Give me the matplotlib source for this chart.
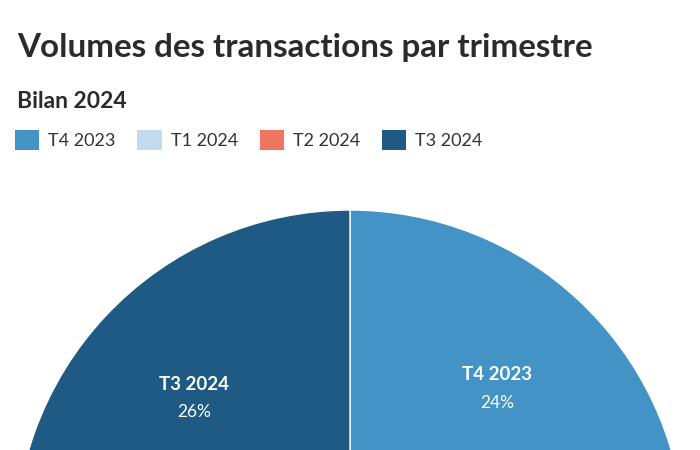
import matplotlib
matplotlib.use("Agg")
import matplotlib.pyplot as plt
from matplotlib.patches import Patch

categories = ["T4 2023", "T1 2024", "T2 2024", "T3 2024"]
shares = [24, 25, 25, 26]
colors = ["#4393c7", "#c3dbee", "#ee7562", "#1e5a84"]

title = "Volumes des transactions par trimestre"
subtitle = "Bilan 2024"

plt.rcParams['font.family'] = ['Lato', 'DejaVu Sans']

W, H = 700, 450
fig = plt.figure(figsize=(7, 4.5), dpi=100)
ax = fig.add_axes([0, 0, 1, 1])

wedges, texts, autotexts = ax.pie(
    shares, colors=colors, startangle=90, counterclock=False,
    center=(350, -95), radius=335, labels=categories,
    labeldistance=0.64, pctdistance=0.64,
    autopct=lambda p: f"{round(p)}%",
    wedgeprops=dict(edgecolor="white", linewidth=1.0),
    textprops=dict(color="white", fontsize=12.5))
for t, a in zip(texts, autotexts):
    x, y = t.get_position()
    t.set_position((x, y + 14))
    t.set_ha("center")
    t.set_va("center")
    t.set_fontweight("bold")
    t.set_fontsize(13.5)
    a.set_position((x, y - 14))
    a.set_ha("center")
    a.set_va("center")
    # labels of slices lying below the visible crop are not shown
    if y - 14 < 10:
        t.set_visible(False)
        a.set_visible(False)
ax.set_xlim(0, W)
ax.set_ylim(0, H)
ax.set_aspect("auto")
ax.axis("off")

fig.text(17 / W, 1 - 57 / H, title, fontsize=23.9, fontweight="bold",
         color="#2b2b2b", ha="left", va="baseline")
fig.text(17 / W, 1 - 108 / H, subtitle, fontsize=16.5, fontweight="bold",
         color="#2b2b2b", ha="left", va="baseline")

handles = [Patch(facecolor=c, edgecolor="none") for c in colors]
fig.legend(handles, categories, loc="upper left",
           bbox_to_anchor=(15 / W, 1 - 130 / H), ncol=4, frameon=False,
           handlelength=1.35, handleheight=1.35,
           handletextpad=0.5, columnspacing=1.2, borderpad=0, borderaxespad=0,
           prop=dict(family=['Lato', 'DejaVu Sans'], weight='normal', size=13),
           labelcolor="#333333")

fig.savefig("out.png", dpi=100, facecolor="white")
